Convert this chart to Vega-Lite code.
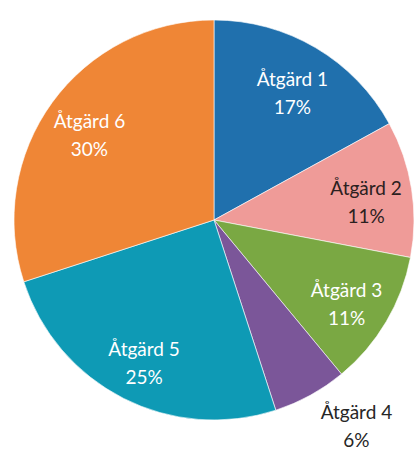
{
  "$schema": "https://vega.github.io/schema/vega-lite/v6.json",
  "width": 400,
  "height": 400,
  "autosize": {"type": "none"},
  "padding": {"left": 14, "top": 20, "right": 3, "bottom": 30},
  "background": "white",
  "view": {"stroke": null},
  "data": {
    "values": [
      {"name": "Åtgärd 1", "value": 17, "label": "Åtgärd 1\n17%"},
      {"name": "Åtgärd 2", "value": 11, "label": "Åtgärd 2\n11%"},
      {"name": "Åtgärd 3", "value": 11, "label": "Åtgärd 3\n11%"},
      {"name": "Åtgärd 4", "value": 6, "label": "Åtgärd 4\n6%"},
      {"name": "Åtgärd 5", "value": 25, "label": "Åtgärd 5\n25%"},
      {"name": "Åtgärd 6", "value": 30, "label": "Åtgärd 6\n30%"}
    ]
  },
  "encoding": {
    "theta": {"field": "value", "type": "quantitative", "stack": true},
    "order": {"field": "name", "type": "nominal"}
  },
  "layer": [
    {
      "mark": {"type": "arc", "outerRadius": 200, "stroke": "white", "strokeWidth": 0.6},
      "encoding": {
        "color": {
          "field": "name",
          "type": "nominal",
          "scale": {
            "domain": ["Åtgärd 1", "Åtgärd 2", "Åtgärd 3", "Åtgärd 4", "Åtgärd 5", "Åtgärd 6"],
            "range": ["#2070ad", "#ef9b98", "#7aa843", "#7b5699", "#0e9ab5", "#ef8636"]
          },
          "legend": null
        }
      }
    },
    {
      "mark": {"type": "text", "radius": 154, "dy": -7, "font": "Lato", "fontSize": 19, "lineHeight": 28, "lineBreak": "\n", "baseline": "middle", "align": "center"},
      "encoding": {
        "text": {"field": "label"},
        "color": {
          "condition": {"test": "datum.name === 'Åtgärd 2'", "value": "#2b2020"},
          "value": "#ffffff"
        },
        "opacity": {
          "condition": {"test": "datum.name === 'Åtgärd 4'", "value": 0},
          "value": 1
        }
      }
    },
    {
      "mark": {"type": "text", "radius": 250, "dx": 22, "dy": -26, "font": "Lato", "fontSize": 19, "lineHeight": 28, "lineBreak": "\n", "baseline": "middle", "align": "center", "color": "#262626"},
      "encoding": {
        "text": {"field": "label"},
        "opacity": {
          "condition": {"test": "datum.name === 'Åtgärd 4'", "value": 1},
          "value": 0
        }
      }
    }
  ]
}
